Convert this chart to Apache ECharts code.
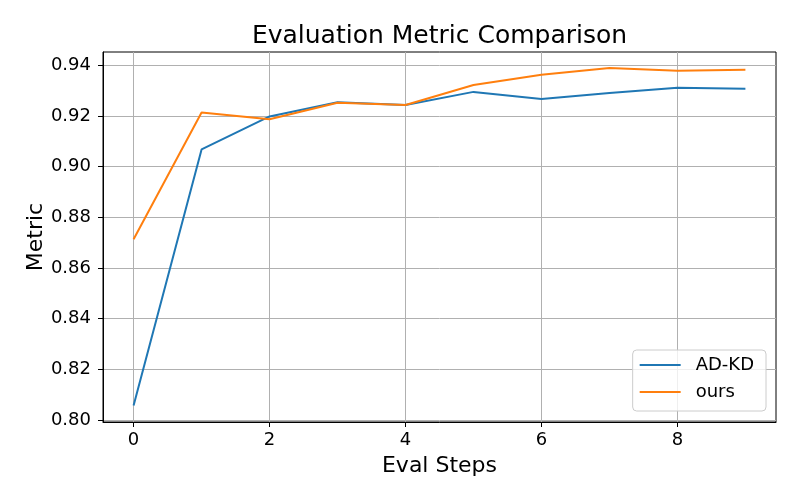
<!DOCTYPE html>
<html>
<head>
<meta charset="utf-8">
<script src="https://cdn.jsdelivr.net/npm/echarts@6/dist/echarts.min.js"></script>
<style>html,body{margin:0;padding:0;background:#fff}#c{width:800px;height:500px}</style>
</head>
<body>
<div id="c"></div>
<script>
const steps = [0, 1, 2, 3, 4, 5, 6, 7, 8, 9];
const adkd = [0.8057, 0.9068, 0.9198, 0.9254, 0.9243, 0.9295, 0.9267, 0.9291, 0.9311, 0.9307];
const ours = [0.8713, 0.9214, 0.9187, 0.9252, 0.9243, 0.9322, 0.9363, 0.9389, 0.9378, 0.9382];
const xTicks = [0, 2, 4, 6, 8];
const yTicks = [0.80, 0.82, 0.84, 0.86, 0.88, 0.90, 0.92, 0.94];

const font = 'DejaVu Sans';
const chart = echarts.init(document.getElementById('c'), null, {renderer: 'canvas'});
const mk = (name, vals, color) => ({
  name: name, type: 'line', data: steps.map((s, i) => [s, vals[i]]),
  symbol: 'none', showSymbol: false, lineStyle: {color: color, width: 2}, itemStyle: {color: color},
  animation: false
});
chart.setOption({
  animation: false,
  backgroundColor: '#fff',
  title: {text: 'Evaluation Metric Comparison', left: 434.5, textAlign: 'center', top: 19,
    textStyle: {fontFamily: font, fontSize: 25, fontWeight: 'normal', color: '#000'}},
  grid: {left: 103, right: 24, top: 52, bottom: 78, show: true, borderColor: '#000', borderWidth: 1, backgroundColor: 'transparent'},
  legend: {
    orient: 'vertical', right: 34, top: 350,
    data: ['AD-KD', 'ours'],
    icon: 'rect', itemWidth: 41, itemHeight: 2, itemGap: 9,
    padding: [6, 12, 10, 7],
    backgroundColor: 'rgba(255,255,255,0.8)', borderColor: '#cccccc', borderWidth: 1, borderRadius: 4,
    textStyle: {fontFamily: font, fontSize: 18, color: '#000', padding: [0, 0, 0, 10]}
  },
  xAxis: {
    type: 'value', min: -0.45, max: 9.45,
    name: 'Eval Steps', nameLocation: 'middle', nameGap: 33, nameMoveOverlap: false,
    nameTextStyle: {fontFamily: font, fontSize: 22, color: '#000'},
    axisLine: {show: true, onZero: false, lineStyle: {color: '#000', width: 1}},
    axisTick: {show: true, customValues: xTicks, length: 5, lineStyle: {color: '#000'}},
    axisLabel: {customValues: xTicks, margin: 9, fontFamily: font, fontSize: 18, color: '#000', formatter: v => String(v)},
    splitLine: {show: true, lineStyle: {color: '#b0b0b0', width: 1}}
  },
  yAxis: {
    type: 'value', min: 0.79921, max: 0.94524,
    name: 'Metric', nameLocation: 'middle', nameGap: 56, nameMoveOverlap: false,
    nameTextStyle: {fontFamily: font, fontSize: 22, color: '#000'},
    axisLine: {show: true, onZero: false, lineStyle: {color: '#000', width: 1}},
    axisTick: {show: true, customValues: yTicks, length: 5, lineStyle: {color: '#000'}},
    axisLabel: {customValues: yTicks, margin: 12, fontFamily: font, fontSize: 18, color: '#000', formatter: v => v.toFixed(2)},
    splitLine: {show: true, lineStyle: {color: '#b0b0b0', width: 1}}
  },
  series: [mk('AD-KD', adkd, '#1f77b4'), mk('ours', ours, '#ff7f0e')]
});
</script>
</body>
</html>
